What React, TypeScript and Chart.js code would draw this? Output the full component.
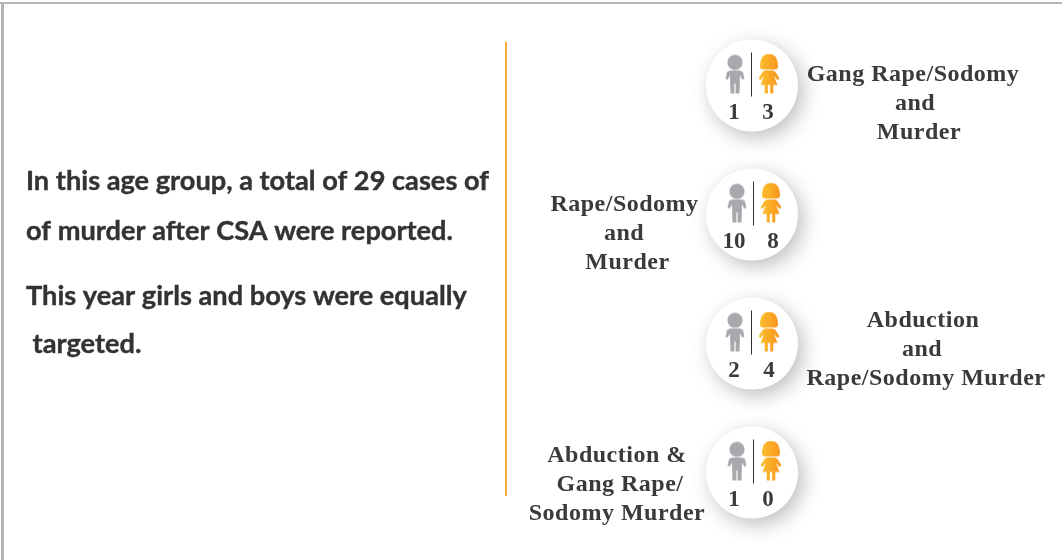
import React, { useEffect, useRef } from "react";
import { Chart, registerables } from "chart.js";

Chart.register(...registerables);

// ---- data ----
const categories = [
  ["Gang Rape/Sodomy", "and", "Murder"],
  ["Rape/Sodomy", "and", "Murder"],
  ["Abduction", "and", "Rape/Sodomy Murder"],
  ["Abduction &", "Gang Rape/", "Sodomy Murder"],
];
const boys = [1, 10, 2, 1];
const girls = [3, 8, 4, 0];
const notes = [
  "In this age group, a total of 29 cases of",
  "of murder after CSA were reported.",
  "This year girls and boys were equally",
  " targeted.",
];

// ---- layout (pixels) ----
const W = 1062;
const H = 560;
const BOY_X = 735;
const COL_STEP = 34;
const ROW0_Y = 85.5;
const ROW_STEP = 129;
const iconNudge = [0, 2, 0, 2];
const boyDigitX = [734, 734, 734, 734];
const girlDigitX = [768, 773, 769, 768];
const labelCenters = [
  [913, 915, 919],
  [624.5, 624, 627.5],
  [923, 922, 926],
  [617, 620, 617],
];
const labelBaselines = [
  [81, 110, 139],
  [211, 240, 269],
  [327, 356, 385],
  [462, 491, 520],
];
const noteBaselines = [190, 240, 305, 353];

function boyIcon() {
  const c = document.createElement("canvas");
  c.width = 28;
  c.height = 44;
  const g = c.getContext("2d")!;
  g.fillStyle = "#a7a9ac";
  g.beginPath();
  g.arc(14, 8.8, 7.6, 0, Math.PI * 2);
  g.fill();
  g.beginPath();
  g.moveTo(9, 17);
  g.lineTo(19, 17);
  g.lineTo(22, 18.5);
  g.lineTo(23.5, 25.5);
  g.lineTo(21.2, 26);
  g.lineTo(19, 22);
  g.lineTo(18.8, 31);
  g.lineTo(18.5, 40);
  g.lineTo(14.6, 40);
  g.lineTo(14.6, 30);
  g.lineTo(13.4, 30);
  g.lineTo(13.4, 40);
  g.lineTo(9.5, 40);
  g.lineTo(9.2, 31);
  g.lineTo(9, 22);
  g.lineTo(6.8, 26);
  g.lineTo(4.5, 25.5);
  g.lineTo(6, 18.5);
  g.closePath();
  g.fill();
  return c;
}

function girlIcon() {
  const c = document.createElement("canvas");
  c.width = 28;
  c.height = 44;
  const g = c.getContext("2d")!;
  const grad = g.createLinearGradient(4, 0, 24, 0);
  grad.addColorStop(0, "#fdc02f");
  grad.addColorStop(1, "#f7941d");
  g.fillStyle = grad;
  g.beginPath();
  g.moveTo(5, 13);
  g.bezierCurveTo(5, 4, 9, 0.3, 14, 0.3);
  g.bezierCurveTo(19, 0.3, 23, 4, 23, 13);
  g.bezierCurveTo(23, 15.2, 21.5, 16, 20, 16);
  g.lineTo(8, 16);
  g.bezierCurveTo(6.5, 16, 5, 15.2, 5, 13);
  g.closePath();
  g.fill();
  g.beginPath();
  g.moveTo(10, 17);
  g.lineTo(18, 17);
  g.lineTo(20.5, 18.5);
  g.lineTo(24.5, 25);
  g.lineTo(22.5, 26.5);
  g.lineTo(19, 22.5);
  g.lineTo(22.5, 31.5);
  g.lineTo(18.3, 31.5);
  g.lineTo(18.3, 40);
  g.lineTo(15.2, 40);
  g.lineTo(15.2, 31.5);
  g.lineTo(12.8, 31.5);
  g.lineTo(12.8, 40);
  g.lineTo(9.7, 40);
  g.lineTo(9.7, 31.5);
  g.lineTo(5.5, 31.5);
  g.lineTo(9, 22.5);
  g.lineTo(5.5, 26.5);
  g.lineTo(3.5, 25);
  g.lineTo(7.5, 18.5);
  g.closePath();
  g.fill();
  return c;
}

const infographicText = {
  id: "infographicText",
  beforeDatasetDraw(chart: any, args: any) {
    if (chart.data.datasets[args.index].label === "disc") {
      const ctx = chart.ctx;
      ctx.save();
      ctx.shadowColor = "rgba(0,0,0,0.26)";
      ctx.shadowBlur = 20;
      ctx.shadowOffsetX = 5;
      ctx.shadowOffsetY = 6;
    }
  },
  afterDatasetDraw(chart: any, args: any) {
    if (chart.data.datasets[args.index].label === "disc") {
      chart.ctx.restore();
    }
  },
  beforeDatasetsDraw(chart: any) {
    const ctx = chart.ctx;
    ctx.save();
    // frame
    ctx.fillStyle = "#b4b5b8";
    ctx.fillRect(0, 2, W, 2);
    ctx.fillRect(1, 2, 3, H);
    // separator
    ctx.fillStyle = "#f6a935";
    ctx.fillRect(505, 42, 2, 454);
    ctx.restore();
  },
  afterDatasetsDraw(chart: any) {
    const { ctx, scales } = chart;
    ctx.save();
    ctx.textBaseline = "alphabetic";
    // left notes
    ctx.fillStyle = "#333333";
    ctx.strokeStyle = "#333333";
    ctx.lineWidth = 0.4;
    ctx.textAlign = "left";
    ctx.font = "bold 27.2px Lato";
    notes.forEach((t, i) => {
      ctx.fillText(t, 26, noteBaselines[i]);
      ctx.strokeText(t, 26, noteBaselines[i]);
    });
    // category labels
    ctx.fillStyle = "#3a3a3a";
    ctx.textAlign = "center";
    ctx.font = 'bold 24px "Liberation Serif"';
    (ctx as any).letterSpacing = "0.5px";
    categories.forEach((lines, r) =>
      lines.forEach((t, i) => ctx.fillText(t, labelCenters[r][i], labelBaselines[r][i]))
    );
    // counts
    ctx.font = 'bold 23px "Liberation Serif"';
    (ctx as any).letterSpacing = "0px";
    categories.forEach((_, r) => {
      const y = scales.y.getPixelForValue(r) + 33;
      ctx.fillText(String(boys[r]), boyDigitX[r], y);
      ctx.fillText(String(girls[r]), girlDigitX[r], y);
    });
    ctx.restore();
  },
};

export default function App() {
  const ref = useRef<HTMLCanvasElement>(null);
  useEffect(() => {
    document.body.style.margin = "0";
    const rows = categories.map((_, r) => r);
    const chart = new Chart(ref.current!, {
      type: "scatter",
      data: {
        datasets: [
          {
            label: "boys",
            order: 1,
            data: rows.map((r) => ({ x: iconNudge[r] / COL_STEP, y: r - 10 / ROW_STEP })),
            pointStyle: boyIcon() as any,
            pointRadius: 14,
          },
          {
            label: "girls",
            order: 1,
            data: rows.map((r) => ({ x: 1 + iconNudge[r] / COL_STEP, y: r - 10 / ROW_STEP })),
            pointStyle: girlIcon() as any,
            pointRadius: 14,
          },
          {
            label: "divider",
            order: 2,
            data: rows.map((r) => ({ x: 0.5 + iconNudge[r] / COL_STEP - 0.5 / COL_STEP, y: r - 11 / ROW_STEP })),
            pointStyle: "line",
            rotation: 90,
            pointRadius: 22,
            borderColor: "#2f2f2f",
            borderWidth: 1,
            backgroundColor: "#2f2f2f",
          },
          {
            label: "disc",
            order: 3,
            data: rows.map((r) => ({ x: 0.5, y: r })),
            pointStyle: "circle",
            pointRadius: 46,
            backgroundColor: "#ffffff",
            borderWidth: 0,
          },
        ],
      },
      options: {
        animation: false,
        responsive: false,
        events: [],
        layout: { padding: 0, autoPadding: false },
        plugins: { legend: { display: false }, tooltip: { enabled: false }, title: { display: false } },
        scales: {
          x: { type: "linear", display: false, min: -BOY_X / COL_STEP, max: (W - BOY_X) / COL_STEP },
          y: { type: "linear", display: false, reverse: true, min: -ROW0_Y / ROW_STEP, max: (H - ROW0_Y) / ROW_STEP },
        },
      },
      plugins: [infographicText],
    } as any);
    return () => chart.destroy();
  }, []);
  return <canvas ref={ref} width={W} height={H} style={{ display: "block", width: W, height: H, background: "#fff" }} />;
}
